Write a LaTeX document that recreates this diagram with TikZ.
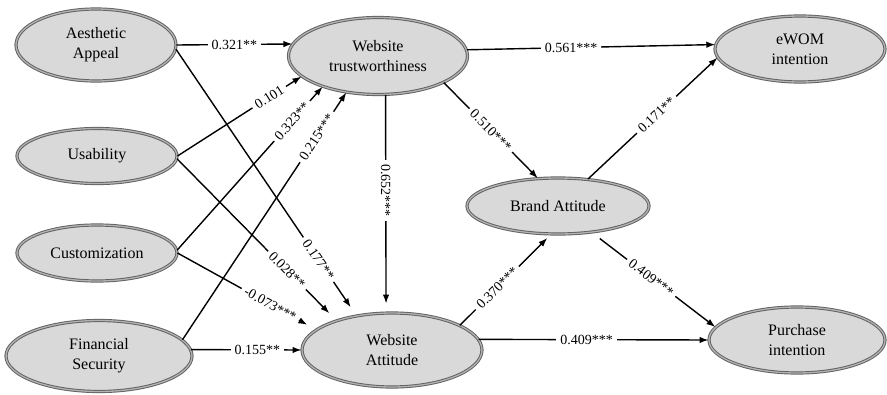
\documentclass[tikz,border=0pt]{standalone}
\usepackage{fontspec}
\setmainfont{Liberation Serif}
\usepackage{tikz}
\usetikzlibrary{shapes}
\usetikzlibrary{arrows.meta, positioning}

\begin{document}
\begin{tikzpicture}[x=1pt, y=-1pt,
    construct/.style = {ellipse, draw=black!62, double=black!30, double distance=1.3pt,
        line width=0.95pt, fill=black!15, align=center, inner sep=0pt,
        font=\fontsize{16}{20}\selectfont},
    coef/.style = {fill=white, inner sep=4pt, font=\fontsize{14}{16}\selectfont}]
    \useasboundingbox (0,0) rectangle (887,394);
    \node (aa) [construct, minimum width=160pt, minimum height=72pt] at (96,45) {Aesthetic\\Appeal};
    \node (us) [construct, minimum width=160pt, minimum height=55pt] at (97,156) {Usability};
    \node (cu) [construct, minimum width=160pt, minimum height=56pt] at (97,253) {Customization};
    \node (fs) [construct, minimum width=186pt, minimum height=71pt] at (99,356) {Financial\\Security};
    \node (wt) [construct, minimum width=179pt, minimum height=77pt] at (378,56) {Website\\trustworthiness};
    \node (wa) [construct, minimum width=180pt, minimum height=74pt] at (392,350) {Website\\Attitude};
    \node (ba) [construct, minimum width=182pt, minimum height=56pt] at (558,206) {Brand Attitude};
    \node (ew) [construct, minimum width=170pt, minimum height=66pt] at (800,49) {eWOM\\intention};
    \node (pi) [construct, minimum width=176pt, minimum height=66pt] at (797,340) {Purchase\\intention};
    \path [-{Latex[length=9pt, width=6.5pt]}, line width=1.4pt]
        (aa.0) edge node[coef, pos=.5] {0.321**} (wt.172)
        (aa.-3) edge [shorten >=10pt] node[coef, sloped, pos=.79] {0.177**} (wa.136)
        (us.0) edge node[coef, sloped, pos=.74] {0.101} (wt.-165)
        (us.-2) edge [shorten >=10pt] node[coef, sloped, pos=.69] {0.028**} (wa.152)
        (cu.2) edge node[coef, sloped, pos=.79] {0.323**} (wt.-151)
        (cu.0) edge [shorten >=10pt] node[coef, sloped, pos=.67] {-0.073***} (wa.165)
        (fs.11) edge node[coef, sloped, pos=.82] {0.215***} (wt.-131)
        (fs.4) edge node[coef, pos=.6] {0.155**} (wa.180)
        (wt.-79) edge [shorten >=9pt] node[coef, rotate=-90, pos=.44] {0.652***} (wa.99)
        (wt.4) edge node[coef, pos=.42] {0.561***} (ew.177)
        (wt.-22) edge node[coef, sloped, pos=.5] {0.510***} (ba.126)
        (ba.42) edge node[coef, sloped, pos=.53] {0.171**} (ew.-174)
        (wa.20) edge [shorten >=5pt] node[coef, sloped, pos=.41] {0.370***} (ba.-104)
        (ba.-38) edge [shorten <=10pt] node[coef, sloped, pos=.48] {0.409***} (pi.171)
        (wa.7) edge node[coef, pos=.47] {0.409***} (pi.180);
\end{tikzpicture}
\end{document}
